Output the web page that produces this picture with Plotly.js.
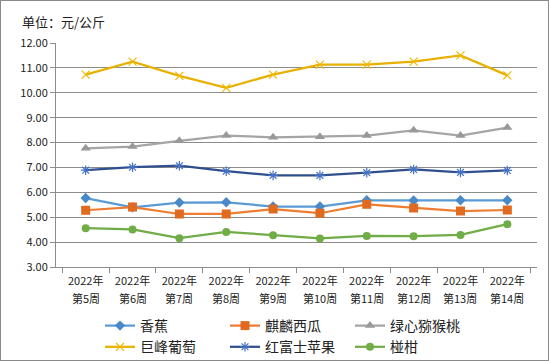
<!DOCTYPE html>
<html>
<head>
<meta charset="utf-8">
<script src="https://cdn.plot.ly/plotly-3.0.1.min.js"></script>
<style>
html,body{margin:0;padding:0;background:#fff;}
#wrap{position:relative;width:549px;height:361px;}
#chart{width:549px;height:361px;}
#border{position:absolute;left:0;top:0;width:547px;height:359px;border:1px solid #8a8a8a;pointer-events:none;}
</style>
</head>
<body>
<div id="wrap"><div id="chart"></div><div id="border"></div></div>
<script>
const weeks = ['第5周','第6周','第7周','第8周','第9周','第10周','第11周','第12周','第13周','第14周'];
const yearLabel = '2022年';
const banana = [5.77,5.40,5.59,5.60,5.43,5.43,5.68,5.67,5.68,5.68];
const watermelon = [5.28,5.41,5.13,5.13,5.33,5.16,5.52,5.37,5.25,5.29];
const kiwi = [7.77,7.84,8.07,8.28,8.21,8.23,8.28,8.49,8.28,8.60];
const grape = [10.73,11.25,10.68,10.20,10.73,11.13,11.13,11.25,11.50,10.70];
const apple = [6.89,7.01,7.07,6.85,6.68,6.68,6.79,6.92,6.80,6.88];
const citrus = [4.56,4.51,4.16,4.41,4.28,4.15,4.25,4.24,4.29,4.72];
const names = ['香蕉','麒麟西瓜','绿心猕猴桃','巨峰葡萄','红富士苹果','椪柑'];

function tr(name, y, color, mcolor, symbol, msize, mline){
  return {type:'scatter', mode:'lines+markers', name:name, x:weeks, y:y,
    line:{color:color, width:2.25},
    marker:{symbol:symbol, size:msize, color:mcolor, line:{color:mcolor, width:mline}}};
}
const data = [
  tr(names[0], banana, '#5B9BD5', '#4A89C8', 'diamond', 8, 0),
  tr(names[1], watermelon, '#ED7D31', '#E06A20', 'square', 9, 0),
  tr(names[2], kiwi, '#A5A5A5', '#999999', 'triangle-up', 9, 0),
  tr(names[3], grape, '#E8B000', '#F0B800', 'x-thin-open', 8, 1.2),
  tr(names[4], apple, '#2F4F8F', '#4472C4', 'asterisk-open', 8, 1.2),
  tr(names[5], citrus, '#70AD47', '#70AD47', 'circle', 8, 0)
];
const font = 'Noto Sans CJK SC, sans-serif';
const tf = {size:11, family:font, color:'#222'};
const weekAnnotations = weeks.map(w => ({
  x:w, xref:'x', y:0, yref:'paper', yanchor:'middle', yshift:-30.6,
  text:w, showarrow:false, font:tf
}));
const layout = {
  width:549, height:361,
  margin:{l:56, r:11.5, t:43, b:94},
  paper_bgcolor:'#fff', plot_bgcolor:'#fff',
  font:{family:font, color:'#222', size:11},
  title:{text:'单位：元/公斤', font:{size:13, family:font, color:'#222'},
    xref:'container', yref:'container', x:22/549, xanchor:'left', y:1-22/361, yanchor:'middle'},
  xaxis:{type:'category', showline:true, linecolor:'#8c8c8c', linewidth:1,
    ticks:'outside', tickson:'boundaries', ticklen:5, tickcolor:'#8c8c8c', ticklabelstandoff:4,
    tickmode:'array', tickvals:weeks, ticktext:weeks.map(() => yearLabel),
    showgrid:false, tickfont:tf, fixedrange:true},
  yaxis:{range:[3,12], dtick:1, tick0:3, tickformat:'.2f', showline:true, linecolor:'#8c8c8c', linewidth:1,
    ticks:'outside', ticklen:5, tickcolor:'#8c8c8c', gridcolor:'#8c8c8c', gridwidth:1,
    zeroline:false, tickfont:tf, fixedrange:true},
  annotations: weekAnnotations,
  showlegend:true,
  legend:{orientation:'h', xref:'container', yref:'container', x:100/549, xanchor:'left',
    y:1-310/361, yanchor:'top', entrywidth:80, entrywidthmode:'pixels',
    font:{size:14, family:font, color:'#222'}, tracegroupgap:0, bgcolor:'rgba(0,0,0,0)'}
};
Plotly.newPlot('chart', data, layout, {displayModeBar:false, staticPlot:true});
</script>
</body>
</html>
